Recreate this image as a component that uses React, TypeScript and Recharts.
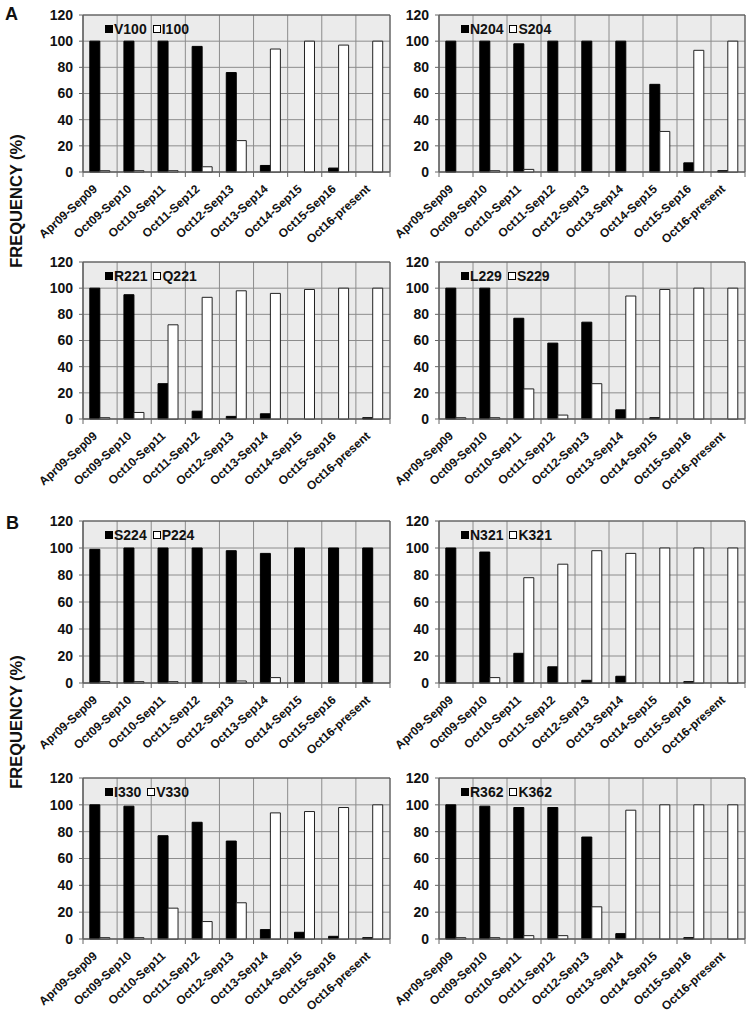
import React from 'react';
import { BarChart, Bar, XAxis, YAxis, CartesianGrid, Legend, ReferenceArea } from 'recharts';

const categories = [
  'Apr09-Sep09', 'Oct09-Sep10', 'Oct10-Sep11', 'Oct11-Sep12', 'Oct12-Sep13',
  'Oct13-Sep14', 'Oct14-Sep15', 'Oct15-Sep16', 'Oct16-present',
];
const yTicks = [0, 20, 40, 60, 80, 100, 120];

const v100 = [100, 100, 100, 96, 76, 5, 0, 3, 0];
const i100 = [1, 1, 1, 4, 24, 94, 100, 97, 100];
const n204 = [100, 100, 98, 100, 100, 100, 67, 7, 1];
const s204 = [0, 1, 2, 0, 0, 0, 31, 93, 100];
const r221 = [100, 95, 27, 6, 2, 4, 0, 0, 1];
const q221 = [1, 5, 72, 93, 98, 96, 99, 100, 100];
const l229 = [100, 100, 77, 58, 74, 7, 1, 0, 0];
const s229 = [1, 1, 23, 3, 27, 94, 99, 100, 100];
const s224 = [99, 100, 100, 100, 98, 96, 100, 100, 100];
const p224 = [1, 1, 1, 0, 1.5, 4, 0, 0, 0];
const n321 = [100, 97, 22, 12, 2, 5, 0, 1, 0];
const k321 = [0, 4, 78, 88, 98, 96, 100, 100, 100];
const i330 = [100, 99, 77, 87, 73, 7, 5, 2, 1];
const v330 = [1, 1, 23, 13, 27, 94, 95, 98, 100];
const r362 = [100, 99, 98, 98, 76, 4, 0, 1, 0];
const k362 = [1, 1, 2.5, 2.5, 24, 96, 100, 100, 100];

const FONT = '"Liberation Sans", Arial, sans-serif';

const rows = [
  { top: 15, bottom: 172 },
  { top: 262, bottom: 419 },
  { top: 521, bottom: 683 },
  { top: 778, bottom: 939 },
];
const cols = [
  { left: 83, width: 307 },
  { left: 439, width: 306 },
];

const panels = [
  { names: ['V100', 'I100'], a: v100, b: i100, row: 0, col: 0 },
  { names: ['N204', 'S204'], a: n204, b: s204, row: 0, col: 1 },
  { names: ['R221', 'Q221'], a: r221, b: q221, row: 1, col: 0 },
  { names: ['L229', 'S229'], a: l229, b: s229, row: 1, col: 1 },
  { names: ['S224', 'P224'], a: s224, b: p224, row: 2, col: 0 },
  { names: ['N321', 'K321'], a: n321, b: k321, row: 2, col: 1 },
  { names: ['I330', 'V330'], a: i330, b: v330, row: 3, col: 0 },
  { names: ['R362', 'K362'], a: r362, b: k362, row: 3, col: 1 },
];

const TICK_SIZE = 5;
const TICK_MARGIN = 3;

const XTick = (props: any) => {
  const { x, y, payload, index } = props;
  const half = payload && payload.offset ? payload.offset : 17;
  const axisY = y - TICK_SIZE - TICK_MARGIN;
  const ax = x - 2;
  const ay = y + 10;
  return (
    <g>
      <line x1={x - half} x2={x - half} y1={axisY} y2={axisY + 5} stroke="#666" />
      {index === categories.length - 1 && (
        <line x1={x + half} x2={x + half} y1={axisY} y2={axisY + 5} stroke="#666" />
      )}
      <text
        x={ax}
        y={ay}
        textAnchor="end"
        transform={`rotate(-42 ${ax} ${ay})`}
        fontSize={12}
        fontWeight="bold"
        fontFamily={FONT}
        fill="#111"
      >
        {payload.value}
      </text>
    </g>
  );
};

const renderLegend = (props: any) => {
  const items = [...(props.payload || [])].sort((p: any, q: any) =>
    String(p.dataKey).localeCompare(String(q.dataKey))
  );
  return (
    <div style={{ display: 'flex', alignItems: 'center', fontFamily: FONT, fontWeight: 'bold', fontSize: 14, color: '#111', lineHeight: '16px' }}>
      {items.map((e: any, i: number) => (
        <span key={i} style={{ display: 'flex', alignItems: 'center', marginRight: 6 }}>
          <span style={{ display: 'inline-block', width: 6, height: 6, background: e.color, border: '1px solid #000', marginRight: 1 }} />
          {e.value}
        </span>
      ))}
    </div>
  );
};

const YW = 62;
const MT = 12;
const MR = 3;
const XH = 80;

function Panel({ names, a, b, row, col }: any) {
  const r = rows[row];
  const c = cols[col];
  const plotH = r.bottom - r.top;
  const data = categories.map((cat, i) => ({ cat, a: a[i], b: b[i] }));
  const n = categories.length;
  return (
    <div style={{ position: 'absolute', left: c.left - YW, top: r.top - MT }}>
      <BarChart
        width={YW + c.width + MR}
        height={MT + plotH + XH}
        data={data}
        margin={{ top: MT, right: MR, left: 0, bottom: 0 }}
        barCategoryGap="20%"
        barGap={0}
      >
        <CartesianGrid
          fill="#ebebeb"
          fillOpacity={1}
          stroke="#8c8c8c"
          verticalCoordinatesGenerator={({ offset }: any) =>
            Array.from({ length: n + 1 }, (_, i) => offset.left + (i * offset.width) / n)
          }
        />
        <XAxis
          dataKey="cat"
          height={XH}
          interval={0}
          tickLine={false}
          tickSize={TICK_SIZE}
          tickMargin={TICK_MARGIN}
          axisLine={{ stroke: '#666' }}
          tick={<XTick />}
        />
        <YAxis
          width={YW}
          domain={[0, 120]}
          ticks={yTicks}
          interval={0}
          tickSize={4}
          tickMargin={6}
          axisLine={{ stroke: '#666' }}
          tickLine={{ stroke: '#666' }}
          tick={{ fontSize: 14, fontWeight: 'bold', fontFamily: FONT, fill: '#111' }}
        />
        <Bar dataKey="a" name={names[0]} fill="#000" stroke="#000" strokeWidth={1} isAnimationActive={false} />
        <Bar dataKey="b" name={names[1]} fill="#fff" stroke="#222" strokeWidth={1} isAnimationActive={false} />
        <ReferenceArea
          x1={categories[0]}
          x2={categories[n - 1]}
          y1={0}
          y2={120}
          fill="none"
          stroke="#555"
          strokeWidth={1}
          ifOverflow="visible"
        />
        <Legend
          layout="horizontal"
          align="center"
          verticalAlign="middle"
          content={renderLegend}
          wrapperStyle={{ top: MT + 6, left: YW + 22, width: 'auto' }}
        />
      </BarChart>
    </div>
  );
}

const sideLabel: React.CSSProperties = {
  position: 'absolute',
  fontFamily: FONT,
  fontWeight: 'bold',
  fontSize: 16.5,
  color: '#111',
  whiteSpace: 'nowrap',
  transform: 'translate(-50%, -50%) rotate(-90deg)',
  lineHeight: '20px',
};

const letter: React.CSSProperties = {
  position: 'absolute',
  fontFamily: FONT,
  fontWeight: 'bold',
  fontSize: 18,
  color: '#111',
  lineHeight: '20px',
};

export default function App() {
  return (
    <div style={{ position: 'absolute', left: 0, top: 0, width: 750, height: 1019, background: '#fff', overflow: 'hidden' }}>
      <div style={{ ...letter, left: 5, top: 4 }}>A</div>
      <div style={{ ...letter, left: 6, top: 513 }}>B</div>
      <div style={{ ...sideLabel, left: 16, top: 201 }}>FREQUENCY (%)</div>
      <div style={{ ...sideLabel, left: 16, top: 722 }}>FREQUENCY (%)</div>
      {panels.map((p, i) => (
        <Panel key={i} {...p} />
      ))}
    </div>
  );
}
